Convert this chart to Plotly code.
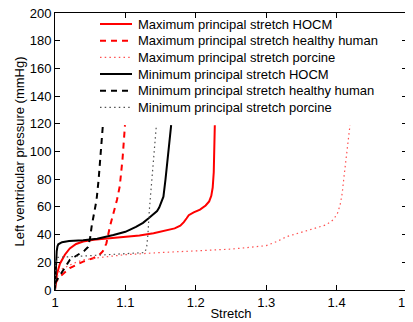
import plotly.graph_objects as go

# Maximum principal stretch HOCM
max_hocm_x = [1.0, 1.001, 1.003, 1.007, 1.014, 1.021, 1.03, 1.04, 1.055, 1.07, 1.085, 1.1, 1.12, 1.14, 1.155, 1.17, 1.178, 1.183, 1.187, 1.19, 1.197, 1.206, 1.214, 1.219, 1.222, 1.224, 1.2255, 1.2263, 1.227]
max_hocm_y = [0, 5, 12, 19, 25.5, 30, 33.2, 35, 36.3, 37, 37.6, 38.2, 39.3, 41, 42.5, 44.5, 46.5, 49, 51.8, 54, 56, 58, 61, 64, 68, 74, 85, 100, 119]

# Maximum principal stretch healthy human
max_hh_x = [1.0, 1.003, 1.007, 1.014, 1.021, 1.03, 1.04, 1.054, 1.062, 1.068, 1.073, 1.078, 1.083, 1.088, 1.092, 1.096, 1.0994]
max_hh_y = [4, 7, 9.6, 13, 15.8, 18, 20.5, 22.9, 24.8, 28, 33.7, 45.8, 55, 65, 75, 95, 119]

# Maximum principal stretch porcine
max_por_x = [1.0, 1.003, 1.007, 1.014, 1.021, 1.03, 1.04, 1.064, 1.1, 1.149, 1.206, 1.25, 1.3, 1.315, 1.329, 1.35, 1.372, 1.385, 1.395, 1.401, 1.405, 1.408, 1.41, 1.413, 1.416, 1.419]
max_por_y = [3, 9, 14.5, 16.5, 18, 20, 21.7, 23.5, 25.5, 27, 28.2, 29.5, 32, 35, 38.5, 41.5, 44.6, 47, 50.6, 55, 61.4, 70, 79.5, 92, 106, 119]

# Minimum principal stretch HOCM
min_hocm_x = [1.0, 1.001, 1.0024, 1.0035, 1.0047, 1.01, 1.02, 1.04, 1.06, 1.083, 1.1, 1.115, 1.125, 1.133, 1.14, 1.145, 1.148, 1.151, 1.154, 1.157, 1.16, 1.163, 1.165]
min_hocm_y = [0, 15, 28, 31.5, 33, 34.5, 35.3, 36, 37, 39.7, 42, 45.5, 48.5, 51.8, 54.5, 57, 59.5, 63, 67.4, 80, 95, 110, 119]

# Minimum principal stretch healthy human
min_hh_x = [1.0, 1.0024, 1.008, 1.014, 1.021, 1.028, 1.036, 1.042, 1.047, 1.05, 1.052, 1.055, 1.059, 1.062, 1.065, 1.068]
min_hh_y = [5, 7, 11, 16, 21.7, 24, 26.5, 28.5, 31, 38, 45.8, 55, 65, 80, 100, 119]

# Minimum principal stretch porcine
min_por_x = [1.0, 1.001, 1.003, 1.02, 1.05, 1.08, 1.11, 1.127, 1.13, 1.132, 1.134, 1.136, 1.139, 1.142, 1.144]
min_por_y = [0, 18, 23.5, 24, 24.8, 25.5, 26.2, 27, 30, 40, 57.8, 70, 90, 105, 119]

names = ["Maximum principal stretch HOCM",
         "Maximum principal stretch healthy human",
         "Maximum principal stretch porcine",
         "Minimum principal stretch HOCM",
         "Minimum principal stretch healthy human",
         "Minimum principal stretch porcine"]

x_ticks = [1, 1.1, 1.2, 1.3, 1.4, 1.5]
x_tick_labels = ["1", "1.1", "1.2", "1.3", "1.4", "1.5"]
y_ticks = [0, 20, 40, 60, 80, 100, 120, 140, 160, 180, 200]

styles = [
    dict(color="#ff0000", width=2, dash="solid"),
    dict(color="#ff0000", width=2, dash="6px,5px"),
    dict(color="#ff5050", width=1.2, dash="1.5px,3.2px"),
    dict(color="#000000", width=2, dash="solid"),
    dict(color="#000000", width=2, dash="6px,5px"),
    dict(color="#505050", width=1.2, dash="1.5px,3.2px"),
]
data = [(max_hocm_x, max_hocm_y), (max_hh_x, max_hh_y), (max_por_x, max_por_y),
        (min_hocm_x, min_hocm_y), (min_hh_x, min_hh_y), (min_por_x, min_por_y)]

fig = go.Figure()
for (xs, ys), ln, nm in zip(data, styles, names):
    fig.add_trace(go.Scatter(x=xs, y=ys, mode="lines", name=nm, line=ln, showlegend=False))

font = dict(family="Liberation Sans, Arial, sans-serif", size=13, color="#000000")
axis_common = dict(showgrid=False, zeroline=False, showline=True, linecolor="#000000", linewidth=1,
                   mirror="ticks", ticks="inside", ticklen=5, tickcolor="#000000", tickfont=font,
                   automargin=False, ticklabeloverflow="allow")

# page has an 8px body margin, so the figure is slightly smaller than the window
L, R, T, B = 47, 6, 5, 32
W, H = 405, 314
OFF = 8
pw, ph = W - L - R, H - T - B

def px_x(p):
    return (p - OFF - L) / pw

def px_y(p):
    return (H - B - (p - OFF)) / ph

shapes = []
annotations = []
row_y = [24, 40.7, 57.3, 74, 90.7, 107.3]
for ry, ln, nm in zip(row_y, styles, names):
    shapes.append(dict(type="line", xref="paper", yref="paper",
                       x0=px_x(100), x1=px_x(132), y0=px_y(ry), y1=px_y(ry),
                       line=dict(color=ln["color"], width=ln["width"], dash=ln["dash"])))
    annotations.append(dict(xref="paper", yref="paper", x=px_x(136), y=px_y(ry),
                            xanchor="left", yanchor="middle", text=nm, showarrow=False, font=font))

fig.update_layout(
    width=W, height=H,
    margin=dict(l=L, r=R, t=T, b=B),
    paper_bgcolor="white", plot_bgcolor="white",
    font=font,
    xaxis=dict(range=[1, 1.5], tickvals=x_ticks, ticktext=x_tick_labels,
               title=dict(text="Stretch", font=font, standoff=0), **axis_common),
    yaxis=dict(range=[0, 200], tickvals=y_ticks,
               title=dict(text="Left ventricular pressure (mmHg)", font=font, standoff=2), **axis_common),
    shapes=shapes,
    annotations=annotations,
    showlegend=False,
)

fig.write_html("out.html")
